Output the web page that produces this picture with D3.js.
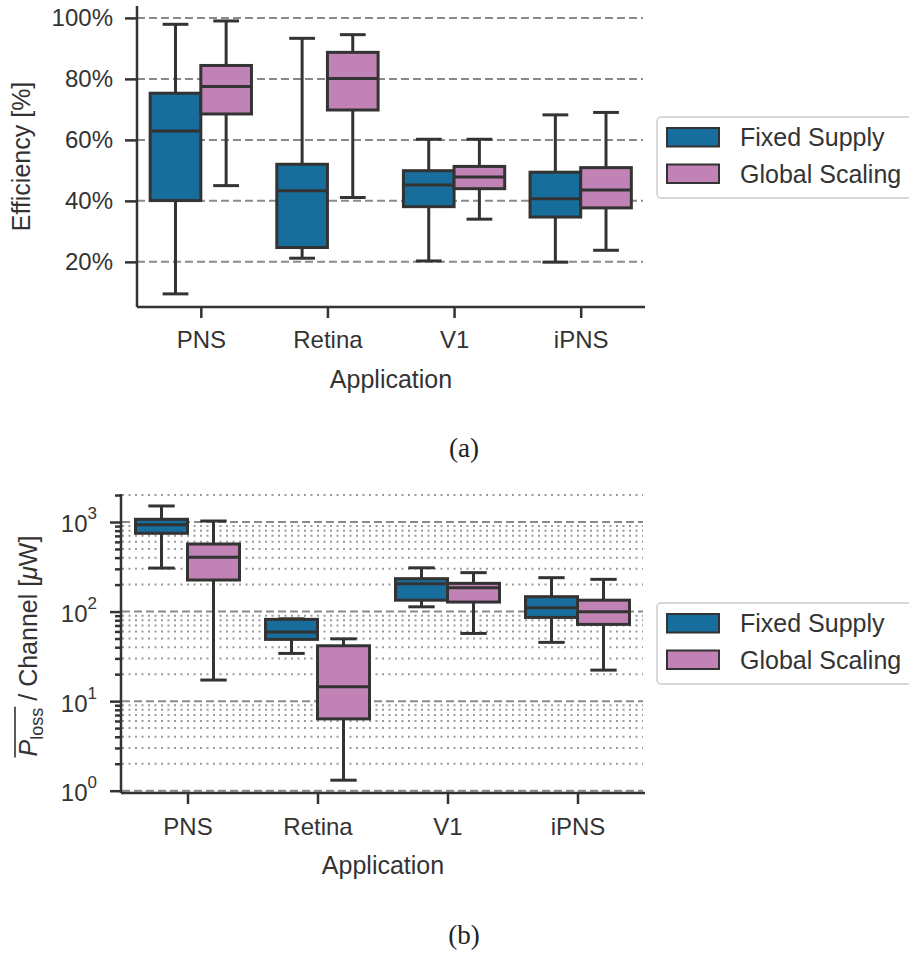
<!DOCTYPE html>
<html>
<head>
<meta charset="utf-8">
<script src="https://cdn.jsdelivr.net/npm/d3@7"></script>
<style>
    body { margin: 0; background: #fff; }
    svg { display: block; font-family: "Liberation Sans", Arial, sans-serif; }
</style>
</head>
<body>
<script>
(function(){

    //pseudo-global variables
    var categories = ["PNS", "Retina", "V1", "iPNS"];
    var seriesNames = ["Fixed Supply", "Global Scaling"];
    var seriesColors = ["#176d9c", "#c183b5"];

    //efficiency [%] box stats per category: whisker low, q1, median, q3, whisker high
    var effFixedLow = [9.5, 21.2, 20.3, 19.9];
    var effFixedQ1 = [40.1, 24.7, 38.1, 34.7];
    var effFixedMed = [62.9, 43.3, 45.2, 40.7];
    var effFixedQ3 = [75.3, 52.0, 49.9, 49.4];
    var effFixedHigh = [97.9, 93.3, 60.2, 68.2];

    var effGlobalLow = [45.0, 41.1, 34.0, 23.8];
    var effGlobalQ1 = [68.5, 69.8, 44.0, 37.7];
    var effGlobalMed = [77.5, 80.1, 47.8, 43.6];
    var effGlobalQ3 = [84.4, 88.7, 51.3, 50.9];
    var effGlobalHigh = [99.0, 94.5, 60.2, 69.0];

    //loss power per channel [uW]
    var lossFixedLow = [306, 34.1, 113, 45.3];
    var lossFixedQ1 = [748, 48.9, 134, 86];
    var lossFixedMed = [933, 59, 205, 110];
    var lossFixedQ3 = [1072, 81.8, 233, 146.6];
    var lossFixedHigh = [1510, 83, 308, 239];

    var lossGlobalLow = [17.2, 1.31, 57, 22.2];
    var lossGlobalQ1 = [225, 6.34, 127.7, 71.9];
    var lossGlobalMed = [403, 14.5, 184.6, 99.6];
    var lossGlobalQ3 = [568, 41.5, 206.6, 134];
    var lossGlobalHigh = [1026, 49.6, 272, 229];

    var effTicks = [20, 40, 60, 80, 100];
    var lossMajorTicks = [1, 10, 100, 1000];

    var ink = "#333333";

    window.onload = setFigure();

    function setFigure(){
        var svg = d3.select("body")
            .append("svg")
            .attr("width", 909)
            .attr("height", 954);

        //build the series tables
        var effSeries = [
            makeSeries(effFixedLow, effFixedQ1, effFixedMed, effFixedQ3, effFixedHigh),
            makeSeries(effGlobalLow, effGlobalQ1, effGlobalMed, effGlobalQ3, effGlobalHigh)
        ];
        var lossSeries = [
            makeSeries(lossFixedLow, lossFixedQ1, lossFixedMed, lossFixedQ3, lossFixedHigh),
            makeSeries(lossGlobalLow, lossGlobalQ1, lossGlobalMed, lossGlobalQ3, lossGlobalHigh)
        ];

        //panel (a): efficiency
        var xA = d3.scaleLinear().domain([-0.5, 3.5]).range([137.5, 644]);
        var yA = d3.scaleLinear().domain([5.2, 103.9]).range([307, 6]);
        var panelA = svg.append("g").attr("class", "panelA");

        //dashed grid
        panelA.selectAll(".gridA")
            .data(effTicks)
            .enter()
            .append("line")
            .attr("class", "gridA")
            .attr("x1", 137).attr("x2", 643)
            .attr("y1", function(d){ return yA(d); })
            .attr("y2", function(d){ return yA(d); })
            .style("stroke", "#8a8a8a")
            .style("stroke-width", 2)
            .style("stroke-dasharray", "8,4");

        drawBoxes(panelA, effSeries, xA, yA);

        //y axis
        var yAxisA = d3.axisLeft(yA)
            .tickValues(effTicks)
            .tickSize(12)
            .tickPadding(12)
            .tickFormat(function(d){ return d + "%"; });
        var gyA = panelA.append("g")
            .attr("transform", "translate(137,0)")
            .call(yAxisA);
        styleAxis(gyA);
        gyA.select(".domain").attr("d", "M0,6V307");

        //x axis
        var xAxisA = d3.axisBottom(xA)
            .tickValues([0, 1, 2, 3])
            .tickSize(11)
            .tickPadding(13)
            .tickFormat(function(d){ return categories[d]; });
        var gxA = panelA.append("g")
            .attr("transform", "translate(0,307)")
            .call(xAxisA);
        styleAxis(gxA);
        gxA.select(".domain").attr("d", "M137,0H645");

        //axis titles
        panelA.append("text")
            .attr("transform", "translate(30,156.5) rotate(-90)")
            .attr("text-anchor", "middle")
            .style("font-size", "25px")
            .style("fill", ink)
            .text("Efficiency [%]");
        panelA.append("text")
            .attr("x", 391).attr("y", 388)
            .attr("text-anchor", "middle")
            .style("font-size", "25px")
            .style("fill", ink)
            .text("Application");

        drawLegend(svg, 657, 117);

        //caption
        svg.append("text")
            .attr("x", 464).attr("y", 457)
            .attr("text-anchor", "middle")
            .style("font-family", "'Liberation Serif', 'DejaVu Serif', serif")
            .style("font-size", "27px")
            .style("fill", "#222")
            .text("(a)");

        //panel (b): loss per channel, log scale
        var xB = d3.scaleLinear().domain([-0.5, 3.5]).range([122.5, 642.5]);
        var yB = d3.scaleLog().domain([0.9425, 2054]).range([793, 494]);
        var panelB = svg.append("g").attr("class", "panelB");

        //minor ticks values 2..9 per decade
        var minorTicks = [];
        lossMajorTicks.forEach(function(m){
            for (var k = 2; k <= 9; k++){
                var v = m * k;
                if (v <= 2054) minorTicks.push(v);
            }
        });

        panelB.selectAll(".gridMinor")
            .data(minorTicks)
            .enter()
            .append("line")
            .attr("class", "gridMinor")
            .attr("x1", 122).attr("x2", 643)
            .attr("y1", function(d){ return yB(d); })
            .attr("y2", function(d){ return yB(d); })
            .style("stroke", "#9a9a9a")
            .style("stroke-width", 2)
            .style("stroke-dasharray", "2,4.5");

        panelB.selectAll(".gridMajor")
            .data(lossMajorTicks)
            .enter()
            .append("line")
            .attr("class", "gridMajor")
            .attr("x1", 122).attr("x2", 643)
            .attr("y1", function(d){ return yB(d); })
            .attr("y2", function(d){ return yB(d); })
            .style("stroke", "#8a8a8a")
            .style("stroke-width", 2)
            .style("stroke-dasharray", "8,4");

        drawBoxes(panelB, lossSeries, xB, yB);

        //minor y ticks
        var yMinorB = d3.axisLeft(yB)
            .tickValues(minorTicks)
            .tickSize(6)
            .tickFormat("");
        var gyMinor = panelB.append("g")
            .attr("transform", "translate(121,0)")
            .call(yMinorB);
        styleAxis(gyMinor);
        gyMinor.select(".domain").remove();

        //major y ticks with power labels
        var yAxisB = d3.axisLeft(yB)
            .tickValues(lossMajorTicks)
            .tickSize(11)
            .tickPadding(24)
            .tickFormat("");
        var gyB = panelB.append("g")
            .attr("transform", "translate(121,0)")
            .call(yAxisB);
        styleAxis(gyB);
        gyB.select(".domain").attr("d", "M0,494V793");
        gyB.selectAll(".tick").each(function(d){
            var t = d3.select(this).append("text")
                .attr("x", -24)
                .attr("y", 10)
                .attr("text-anchor", "end")
                .style("font-size", "24px")
                .style("fill", ink);
            t.append("tspan").text("10");
            t.append("tspan")
                .attr("dy", -13)
                .style("font-size", "17px")
                .text(Math.round(Math.log10(d)));
        });

        //x axis
        var xAxisB = d3.axisBottom(xB)
            .tickValues([0, 1, 2, 3])
            .tickSize(11)
            .tickPadding(14)
            .tickFormat(function(d){ return categories[d]; });
        var gxB = panelB.append("g")
            .attr("transform", "translate(0,793)")
            .call(xAxisB);
        styleAxis(gxB);
        gxB.select(".domain").attr("d", "M121,0H645");

        //y title with overline on P_loss
        var titleG = panelB.append("g")
            .attr("transform", "translate(37,646) rotate(-90)");
        var yTitle = titleG.append("text")
            .attr("text-anchor", "start")
            .style("font-size", "25px")
            .style("fill", ink);
        yTitle.append("tspan").style("font-style", "italic").text("P");
        yTitle.append("tspan").attr("dy", 6).style("font-size", "18px").text("loss");
        yTitle.append("tspan").attr("dy", -6).text(" / Channel [");
        yTitle.append("tspan").style("font-style", "italic").text("\u03bc");
        yTitle.append("tspan").text("W]");
        var total = yTitle.node().getComputedTextLength();
        yTitle.attr("x", -total / 2);
        var plossLen = yTitle.node().getSubStringLength(0, 5);
        titleG.append("line")
            .attr("x1", -total / 2 - 1)
            .attr("x2", -total / 2 + plossLen + 1)
            .attr("y1", -22).attr("y2", -22)
            .style("stroke", ink)
            .style("stroke-width", 1.6);

        panelB.append("text")
            .attr("x", 383).attr("y", 874)
            .attr("text-anchor", "middle")
            .style("font-size", "25px")
            .style("fill", ink)
            .text("Application");

        drawLegend(svg, 657, 603);

        svg.append("text")
            .attr("x", 464).attr("y", 944)
            .attr("text-anchor", "middle")
            .style("font-family", "'Liberation Serif', 'DejaVu Serif', serif")
            .style("font-size", "27px")
            .style("fill", "#222")
            .text("(b)");
    };

    //zip five stat arrays into box records
    function makeSeries(low, q1, med, q3, high){
        return categories.map(function(c, i){
            return { cat: i, low: low[i], q1: q1[i], med: med[i], q3: q3[i], high: high[i] };
        });
    };

    //draw grouped boxplots
    function drawBoxes(g, series, x, y){
        var boxW = x(0.4) - x(0);
        var capW = boxW * 0.45;
        series.forEach(function(rows, s){
            var offset = s === 0 ? -0.2 : 0.2;
            var boxes = g.selectAll(".box" + s)
                .data(rows)
                .enter()
                .append("g")
                .attr("class", "box" + s);

            //whiskers
            boxes.append("line")
                .attr("x1", function(d){ return x(d.cat + offset); })
                .attr("x2", function(d){ return x(d.cat + offset); })
                .attr("y1", function(d){ return y(d.low); })
                .attr("y2", function(d){ return y(d.high); })
                .style("stroke", ink)
                .style("stroke-width", 3);
            //caps
            ["low", "high"].forEach(function(k){
                boxes.append("line")
                    .attr("x1", function(d){ return x(d.cat + offset) - capW / 2; })
                    .attr("x2", function(d){ return x(d.cat + offset) + capW / 2; })
                    .attr("y1", function(d){ return y(d[k]); })
                    .attr("y2", function(d){ return y(d[k]); })
                    .style("stroke", ink)
                    .style("stroke-width", 3)
                    .style("stroke-linecap", "square");
            });
            //box body
            boxes.append("rect")
                .attr("x", function(d){ return x(d.cat + offset) - boxW / 2; })
                .attr("y", function(d){ return y(d.q3); })
                .attr("width", boxW)
                .attr("height", function(d){ return y(d.q1) - y(d.q3); })
                .style("fill", seriesColors[s])
                .style("stroke", ink)
                .style("stroke-width", 3);
            //median
            boxes.append("line")
                .attr("x1", function(d){ return x(d.cat + offset) - boxW / 2; })
                .attr("x2", function(d){ return x(d.cat + offset) + boxW / 2; })
                .attr("y1", function(d){ return y(d.med); })
                .attr("y2", function(d){ return y(d.med); })
                .style("stroke", ink)
                .style("stroke-width", 3);
        });
    };

    function styleAxis(g){
        g.select(".domain").style("stroke", ink).style("stroke-width", 2.5);
        g.selectAll(".tick line").style("stroke", ink).style("stroke-width", 2.5);
        g.selectAll(".tick text")
            .style("font-size", "24px")
            .style("font-family", "'Liberation Sans', Arial, sans-serif")
            .style("fill", ink);
    };

    //legend with two patches, box runs past the right edge
    function drawLegend(svg, x0, y0){
        var legend = svg.append("g").attr("transform", "translate(" + x0 + "," + y0 + ")");
        legend.append("rect")
            .attr("x", 0).attr("y", 0)
            .attr("width", 280).attr("height", 81)
            .attr("rx", 4)
            .style("fill", "#fff")
            .style("stroke", "#cccccc")
            .style("stroke-width", 1.5);
        var rows = legend.selectAll(".legendRow")
            .data(seriesNames)
            .enter()
            .append("g")
            .attr("class", "legendRow")
            .attr("transform", function(d, i){ return "translate(0," + (11 + i * 36.5) + ")"; });
        rows.append("rect")
            .attr("x", 10).attr("y", 0)
            .attr("width", 52).attr("height", 18.5)
            .style("fill", function(d, i){ return seriesColors[i]; })
            .style("stroke", ink)
            .style("stroke-width", 2);
        rows.append("text")
            .attr("x", 83).attr("y", 18)
            .style("font-size", "25px")
            .style("fill", ink)
            .text(function(d){ return d; });
    };
})();
</script>
</body>
</html>
